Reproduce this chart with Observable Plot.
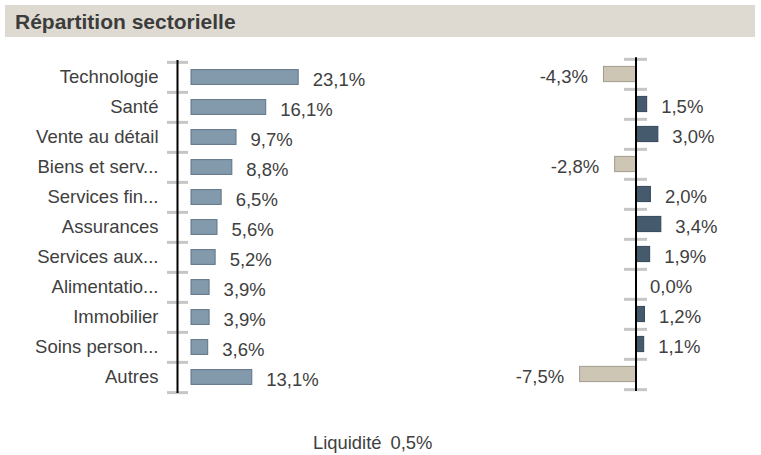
<!DOCTYPE html>
<html>
<head>
<meta charset="utf-8">
<script src="https://cdn.jsdelivr.net/npm/d3@7"></script>
<script src="https://cdn.jsdelivr.net/npm/@observablehq/plot@0.6"></script>
<style>
  html, body { margin: 0; padding: 0; background: #fff; }
  #wrap { position: relative; width: 761px; height: 455px; overflow: hidden; background: #fff;
          font-family: "Liberation Sans", Arial, sans-serif; color: #404040; }
  #banner { position: absolute; left: 5px; top: 5px; width: 750px; height: 32px; background: #dedad1; }
  #title { position: absolute; left: 10px; top: 4px; font-size: 21px; font-weight: bold; line-height: 26px; color: #3c3c3c; white-space: nowrap; }
  .layer { position: absolute; left: 0; top: 0; }
  #liq { position: absolute; left: 313px; top: 433px; font-size: 18.4px; line-height: 20px; white-space: nowrap; }
  #liq span + span { margin-left: 9px; }
</style>
</head>
<body>
<div id="wrap">
  <div id="banner"><div id="title">Répartition sectorielle</div></div>
  <div id="left" class="layer"></div>
  <div id="right" class="layer"></div>
  <div id="liq"><span id="liqLabel"></span><span id="liqValue"></span></div>
</div>
<script>
// ---- data ----
const categories = ["Technologie", "Santé", "Vente au détail", "Biens et serv...", "Services fin...", "Assurances", "Services aux...", "Alimentatio...", "Immobilier", "Soins person...", "Autres"];
const weights = [23.1, 16.1, 9.7, 8.8, 6.5, 5.6, 5.2, 3.9, 3.9, 3.6, 13.1];
const differences = [-4.3, 1.5, 3.0, -2.8, 2.0, 3.4, 1.9, 0.0, 1.2, 1.1, -7.5];
const liquidityLabel = "Liquidité";
const liquidityValue = 0.5;

const fmt = v => v.toFixed(1).replace(".", ",") + "%";
const leftData = categories.map((c, i) => ({cat: c, v: weights[i]}));
const rightData = categories.map((c, i) => ({cat: c, v: differences[i]}));

const W = 761, H = 455;
const textColor = "#404040";
const tickGrey = "#c6c6c6";
const fontStyle = {background: "transparent", fontFamily: "Liberation Sans, Arial, sans-serif", fontSize: "18.5px", color: textColor, overflow: "visible"};

// ---- left chart: weights ----
const lTop = 60, lBottom = 393;
const lStep = (lBottom - lTop) / categories.length;
const lK = 4.64;                 // px per %
const lAxis = 177, lZero = 191;  // axis line, bar origin
const lMin = -(lZero - lAxis) / lK;
const left = Plot.plot({
  width: W, height: H,
  marginTop: lTop, marginBottom: H - lBottom, marginLeft: lAxis, marginRight: 0,
  style: fontStyle,
  x: {domain: [lMin, 30], range: [lAxis, lAxis + (30 - lMin) * lK], axis: null},
  y: {domain: categories, padding: 0, tickSize: 0, tickPadding: 19, label: null},
  marks: [
    Plot.ruleY(categories, {y: d => d, x1: (167 - lZero) / lK, x2: (188 - lZero) / lK, dy: -lStep / 2, stroke: tickGrey, strokeWidth: 3}),
    Plot.ruleY([categories[categories.length - 1]], {y: d => d, x1: (167 - lZero) / lK, x2: (188 - lZero) / lK, dy: lStep / 2, stroke: tickGrey, strokeWidth: 3}),
    Plot.barX(leftData, {x1: 0, x2: "v", y: "cat", fill: "#8399ac", stroke: "#5e7385", strokeWidth: 1, insetTop: 7.6, insetBottom: 7.6}),
    Plot.ruleX([lMin], {stroke: "#000", strokeWidth: 2}),
    Plot.text(leftData, {x: "v", y: "cat", text: d => fmt(d.v), dx: 14, dy: 3, textAnchor: "start", fill: textColor})
  ]
});
document.getElementById("left").append(left);

// ---- right chart: difference ----
const rTop = 57.3, rBottom = 391;
const rStep = (rBottom - rTop) / categories.length;
const rK = 7.45;
const rAxis = 635.5;
const right = Plot.plot({
  width: W, height: H,
  marginTop: rTop, marginBottom: H - rBottom, marginLeft: 0, marginRight: 0,
  style: fontStyle,
  x: {domain: [-10, 5], range: [rAxis - 10 * rK, rAxis + 5 * rK], axis: null},
  y: {domain: categories, padding: 0, axis: null},
  marks: [
    Plot.ruleY(categories, {y: d => d, x1: (624 - rAxis) / rK, x2: (647 - rAxis) / rK, dy: -rStep / 2, stroke: tickGrey, strokeWidth: 3}),
    Plot.ruleY([categories[categories.length - 1]], {y: d => d, x1: (624 - rAxis) / rK, x2: (647 - rAxis) / rK, dy: rStep / 2, stroke: tickGrey, strokeWidth: 3}),
    Plot.barX(rightData.filter(d => d.v !== 0), {x1: 0, x2: "v", y: "cat",
      fill: d => d.v < 0 ? "#cdc6b4" : "#455a6d",
      stroke: d => d.v < 0 ? "#a19c8d" : "#33465a",
      strokeWidth: 1, insetTop: 7.4, insetBottom: 7.4}),
    Plot.ruleX([0], {stroke: "#000", strokeWidth: 2}),
    Plot.text(rightData.filter(d => d.v >= 0), {x: "v", y: "cat", text: d => fmt(d.v), dx: 14, dy: 3, textAnchor: "start", fill: textColor}),
    Plot.text(rightData.filter(d => d.v < 0), {x: "v", y: "cat", text: d => fmt(d.v), dx: -16, dy: 3, textAnchor: "end", fill: textColor})
  ]
});
document.getElementById("right").append(right);

document.getElementById("liqLabel").textContent = liquidityLabel;
document.getElementById("liqValue").textContent = fmt(liquidityValue);
</script>
</body>
</html>
